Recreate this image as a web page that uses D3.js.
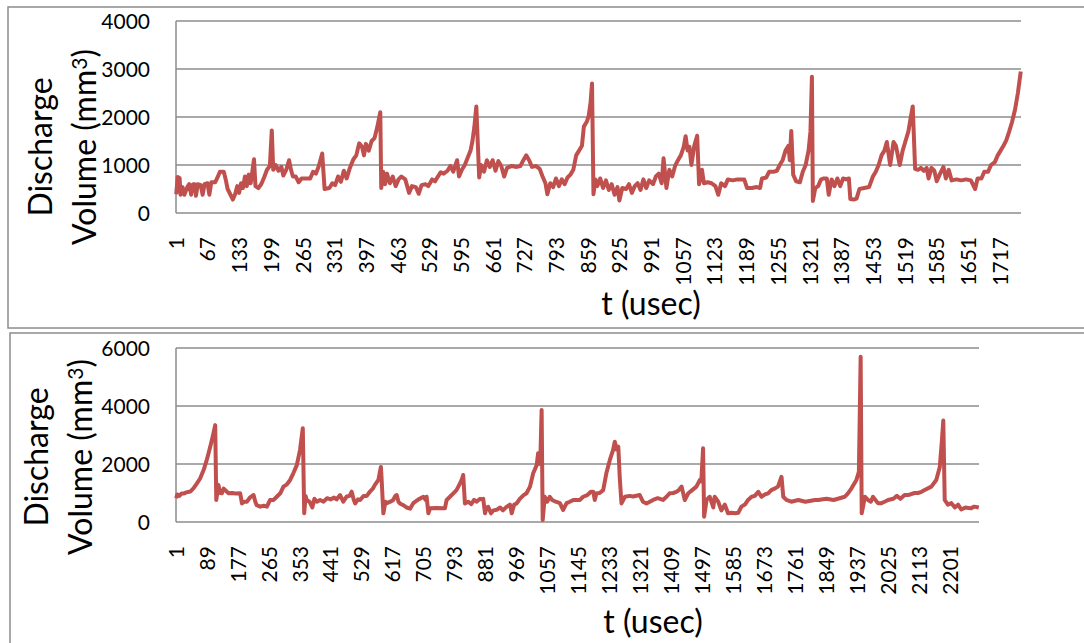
<!DOCTYPE html>
<html>
<head>
<meta charset="utf-8">
<script src="https://cdn.jsdelivr.net/npm/d3@7"></script>
<style>
  body { margin: 0; background: #fff; }
  svg { display: block; }
  text { font-family: Lato, "Open Sans", sans-serif; fill: #000; }
</style>
</head>
<body>
<svg width="1084" height="643"></svg>
<script>
// top run: sample index (t) and discharge volume
var topT = [1,4,8,10,14,18,24,28,32,36,40,42,46,52,56,60,66,70,74,82,86,92,100,104,108,114,119,124,128,132,136,140,144,148,152,156,160,163,166,172,178,184,190,196,200,203,208,214,220,224,230,236,240,244,250,256,262,270,280,286,292,298,305,310,320,326,332,338,344,350,356,362,370,376,382,388,392,396,402,408,414,420,426,428,432,436,440,446,452,458,464,470,478,486,492,500,506,512,520,526,534,540,546,552,558,566,572,578,586,
  590,596,602,608,614,618,622,626,629,632,636,642,648,654,660,666,672,678,684,690,700,710,718,724,730,736,742,750,758,764,770,774,780,786,792,798,804,810,816,822,828,834,840,846,850,856,860,864,867,870,874,878,884,890,896,902,908,914,920,924,930,938,944,950,956,962,968,974,980,986,994,1000,1006,1012,1016,1022,1028,1034,1040,1046,1052,1058,1062,1066,1070,1074,1080,1086,1090,1096,1100,1108,1116,1124,1130,1136,1144,1150,1160,1170,1176,
  1184,1190,1200,1210,1217,1221,1230,1236,1246,1252,1258,1264,1270,1276,1279,1282,1286,1292,1300,1306,1312,1318,1322,1325,1327,1332,1338,1344,1350,1356,1360,1366,1372,1378,1384,1390,1396,1402,1405,1412,1418,1424,1434,1444,1452,1458,1464,1470,1476,1481,1488,1495,1500,1508,1514,1520,1526,1531,1535,1540,1546,1552,1558,1564,1568,1574,1580,1585,1592,1599,1604,1610,1616,1626,1636,1646,1656,1665,1670,1678,1684,1692,1698,1706,1712,1718,1724,1730,1736,1742,1748,1754,1760];
var topV = [390,750,730,380,540,380,540,600,380,600,600,360,600,580,380,600,620,380,640,640,720,860,860,700,500,380,280,400,560,420,620,520,760,560,800,620,900,1120,560,520,600,740,900,980,1720,900,1000,880,960,780,900,1100,900,760,760,640,720,720,720,860,820,980,1240,500,520,620,580,760,650,880,720,920,1120,1200,1450,1380,1200,1440,1300,1500,1560,1800,2100,520,860,600,820,620,760,560,700,760,700,420,560,540,400,580,600,560,700,660,760,850,820,880,980,860,1100,
  760,900,1000,1150,1300,1500,1800,2220,1480,740,1000,860,1100,960,1100,880,1080,980,760,940,980,960,980,1100,1200,1100,960,980,920,760,620,390,620,540,720,560,700,600,740,800,900,1200,1300,1400,1800,1900,2020,2300,2700,390,700,560,720,520,680,480,600,380,540,260,520,500,600,420,560,620,480,700,520,680,600,760,820,620,1140,520,900,760,980,1100,1200,1380,1600,1300,1380,1000,1400,1610,600,900,620,640,620,560,380,620,560,700,680,700,700,
  700,520,520,540,520,720,740,860,860,880,1000,1100,1300,1400,1100,1710,800,660,640,860,1000,1300,1700,2840,250,520,560,700,720,720,380,700,560,720,560,720,700,720,290,280,300,500,520,540,760,860,1000,1200,1300,1480,1000,1480,1400,1000,1300,1500,1700,2000,2220,920,900,940,880,940,720,940,880,660,820,960,720,900,680,700,680,700,680,500,720,720,860,860,1000,1060,1200,1300,1400,1520,1700,1900,2150,2500,2950];
var topTicks = [1,67,133,199,265,331,397,463,529,595,661,727,793,859,925,991,1057,1123,1189,1255,1321,1387,1453,1519,1585,1651,1717];
var topY = [0,1000,2000,3000,4000];

// bottom run
var botT = [1,4,10,16,22,30,41,50,60,69,79,88,98,107,112,115,118,121,126,131,136,140,150,160,170,183,188,195,202,212,221,226,230,240,250,259,268,278,287,297,306,316,325,334,344,353,361,365,369,372,380,388,394,401,410,420,430,440,450,457,467,476,486,494,500,506,510,518,524,534,543,552,560,566,576,583,585,590,596,600,610,618,624,628,633,637,647,656,666,675,690,704,710,713,718,723,740,765,
  770,780,789,798,808,814,817,822,831,840,848,855,865,870,874,879,884,888,896,903,912,922,930,940,950,955,962,969,978,988,997,1007,1016,1026,1030,1036,1040,1043,1049,1056,1063,1070,1080,1092,1101,1111,1120,1130,1149,1158,1170,1180,1187,1191,1196,1205,1215,1224,1234,1243,1248,1253,1258,1262,1267,1277,1290,1300,1319,1328,1338,1357,1370,1385,1395,1404,1414,1423,1430,1438,1447,1457,1468,1480,1490,1494,1499,1502,1509,1518,1528,1532,
  1542,1551,1561,1570,1580,1590,1599,1608,1618,1627,1637,1646,1656,1665,1675,1684,1693,1702,1712,1722,1727,1736,1750,1770,1790,1817,1826,1850,1870,1902,1911,1921,1935,1942,1947,1950,1955,1959,1968,1976,1982,1996,2006,2015,2025,2040,2050,2060,2072,2082,2100,2110,2120,2129,2148,2162,2172,2178,2182,2186,2195,2205,2215,2224,2233,2245,2260,2270,2283];
var botV = [820,950,900,980,980,1020,1050,1160,1330,1500,1790,2140,2600,3060,3340,760,1000,1280,1000,990,1150,1100,990,1000,980,990,640,700,700,860,930,700,580,530,560,530,760,760,870,990,1220,1300,1450,1680,1960,2480,3230,300,900,760,700,500,800,700,760,700,820,780,840,780,930,700,880,900,1045,760,640,780,760,900,900,1050,1150,1280,1450,1900,1500,300,700,650,700,760,900,930,700,640,580,500,460,650,780,870,760,870,300,470,480,470,
  760,880,990,1100,1330,1500,1620,640,700,620,760,700,800,780,800,300,500,520,300,400,420,500,400,520,600,300,600,640,800,920,990,1220,1680,1960,2370,2000,3860,70,870,700,870,760,700,650,415,650,700,760,760,870,930,1040,1040,760,990,1000,1100,1680,2140,2480,2770,2500,2600,1560,640,870,900,880,930,700,640,760,820,760,870,990,1000,1040,1100,1220,760,990,1100,1220,1450,1400,2540,180,760,870,500,870,
  700,400,600,300,320,300,320,530,600,760,870,900,1040,870,950,990,1100,1150,1220,1560,870,760,700,760,700,760,760,800,760,870,990,1160,1450,1730,5700,300,600,870,760,700,870,650,650,700,760,800,900,800,930,930,1000,1000,1040,1100,1220,1450,1900,2800,3500,760,600,650,500,600,430,500,470,530,500];
var botTicks = [1,89,177,265,353,441,529,617,705,793,881,969,1057,1145,1233,1321,1409,1497,1585,1673,1761,1849,1937,2025,2113,2201];
var botY = [0,2000,4000,6000];

var svg = d3.select('svg');
var red = '#c0504d';
var grid = '#8c8c8c';

// panel frames
svg.append('rect').attr('x', 8).attr('y', 7).attr('width', 1090).attr('height', 321)
  .attr('fill', 'none').attr('stroke', grid).attr('stroke-width', 1.5);
svg.append('rect').attr('x', 10).attr('y', 333).attr('width', 1090).attr('height', 320)
  .attr('fill', 'none').attr('stroke', grid).attr('stroke-width', 1.5);

function drawPanel(p) {
  var n = p.t[p.t.length - 1];
  var x = d3.scaleLinear().domain([0.5, n + 0.5]).range([p.left, p.right]);
  var y = d3.scaleLinear().domain([0, p.ymax]).range([p.bottom, p.top]);
  var g = svg.append('g');

  // gridlines
  g.selectAll('.grid').data(p.yticks).enter().append('line')
    .attr('x1', p.left).attr('x2', p.right)
    .attr('y1', d => y(d)).attr('y2', d => y(d))
    .attr('stroke', grid).attr('stroke-width', 1.5);
  g.append('line')
    .attr('x1', p.left).attr('x2', p.left)
    .attr('y1', p.top).attr('y2', p.bottom)
    .attr('stroke', grid).attr('stroke-width', 1.5);

  g.selectAll('.ylab').data(p.yticks).enter().append('text')
    .attr('x', 150).attr('y', d => y(d)).attr('dy', '0.36em')
    .attr('text-anchor', 'end').style('font-size', '21px')
    .text(d => d);

  g.selectAll('.xlab').data(p.xticks).enter().append('text')
    .attr('transform', d => `translate(${x(d)},${p.bottom + 24}) rotate(-90)`)
    .attr('dy', '0.36em').attr('text-anchor', 'end')
    .style('font-size', '21px')
    .text(d => d);

  var line = d3.line()
    .x((d, i) => x(p.t[i]))
    .y(d => y(d));
  g.append('path')
    .attr('d', line(p.v))
    .attr('fill', 'none')
    .attr('stroke', red)
    .attr('stroke-width', 4)
    .attr('stroke-linejoin', 'round');

  // axis titles
  g.append('text')
    .attr('transform', `translate(${p.t1x},${p.tcy}) rotate(-90)`)
    .attr('text-anchor', 'middle').style('font-size', '32px')
    .text('Discharge');
  var vt = g.append('text')
    .attr('transform', `translate(${p.t2x},${p.tcy}) rotate(-90)`)
    .attr('text-anchor', 'middle').style('font-size', '32px');
  vt.append('tspan').text('Volume (mm');
  vt.append('tspan').attr('dy', '-0.45em').style('font-size', '21px').text('3');
  vt.append('tspan').attr('dy', '0.3em').text(')');

  g.append('text')
    .attr('x', p.xtx).attr('y', p.xty)
    .attr('text-anchor', 'middle').style('font-size', '32px')
    .text('t (usec)');
}

drawPanel({t: topT, v: topV, xticks: topTicks, yticks: topY, ymax: 4000,
  left: 176, right: 1021, top: 21, bottom: 213,
  t1x: 52, t2x: 96, tcy: 147, xtx: 651, xty: 315});
drawPanel({t: botT, v: botV, xticks: botTicks, yticks: botY, ymax: 6000,
  left: 176, right: 979, top: 348, bottom: 522,
  t1x: 48, t2x: 92, tcy: 457, xtx: 653, xty: 633});
</script>
</body>
</html>
